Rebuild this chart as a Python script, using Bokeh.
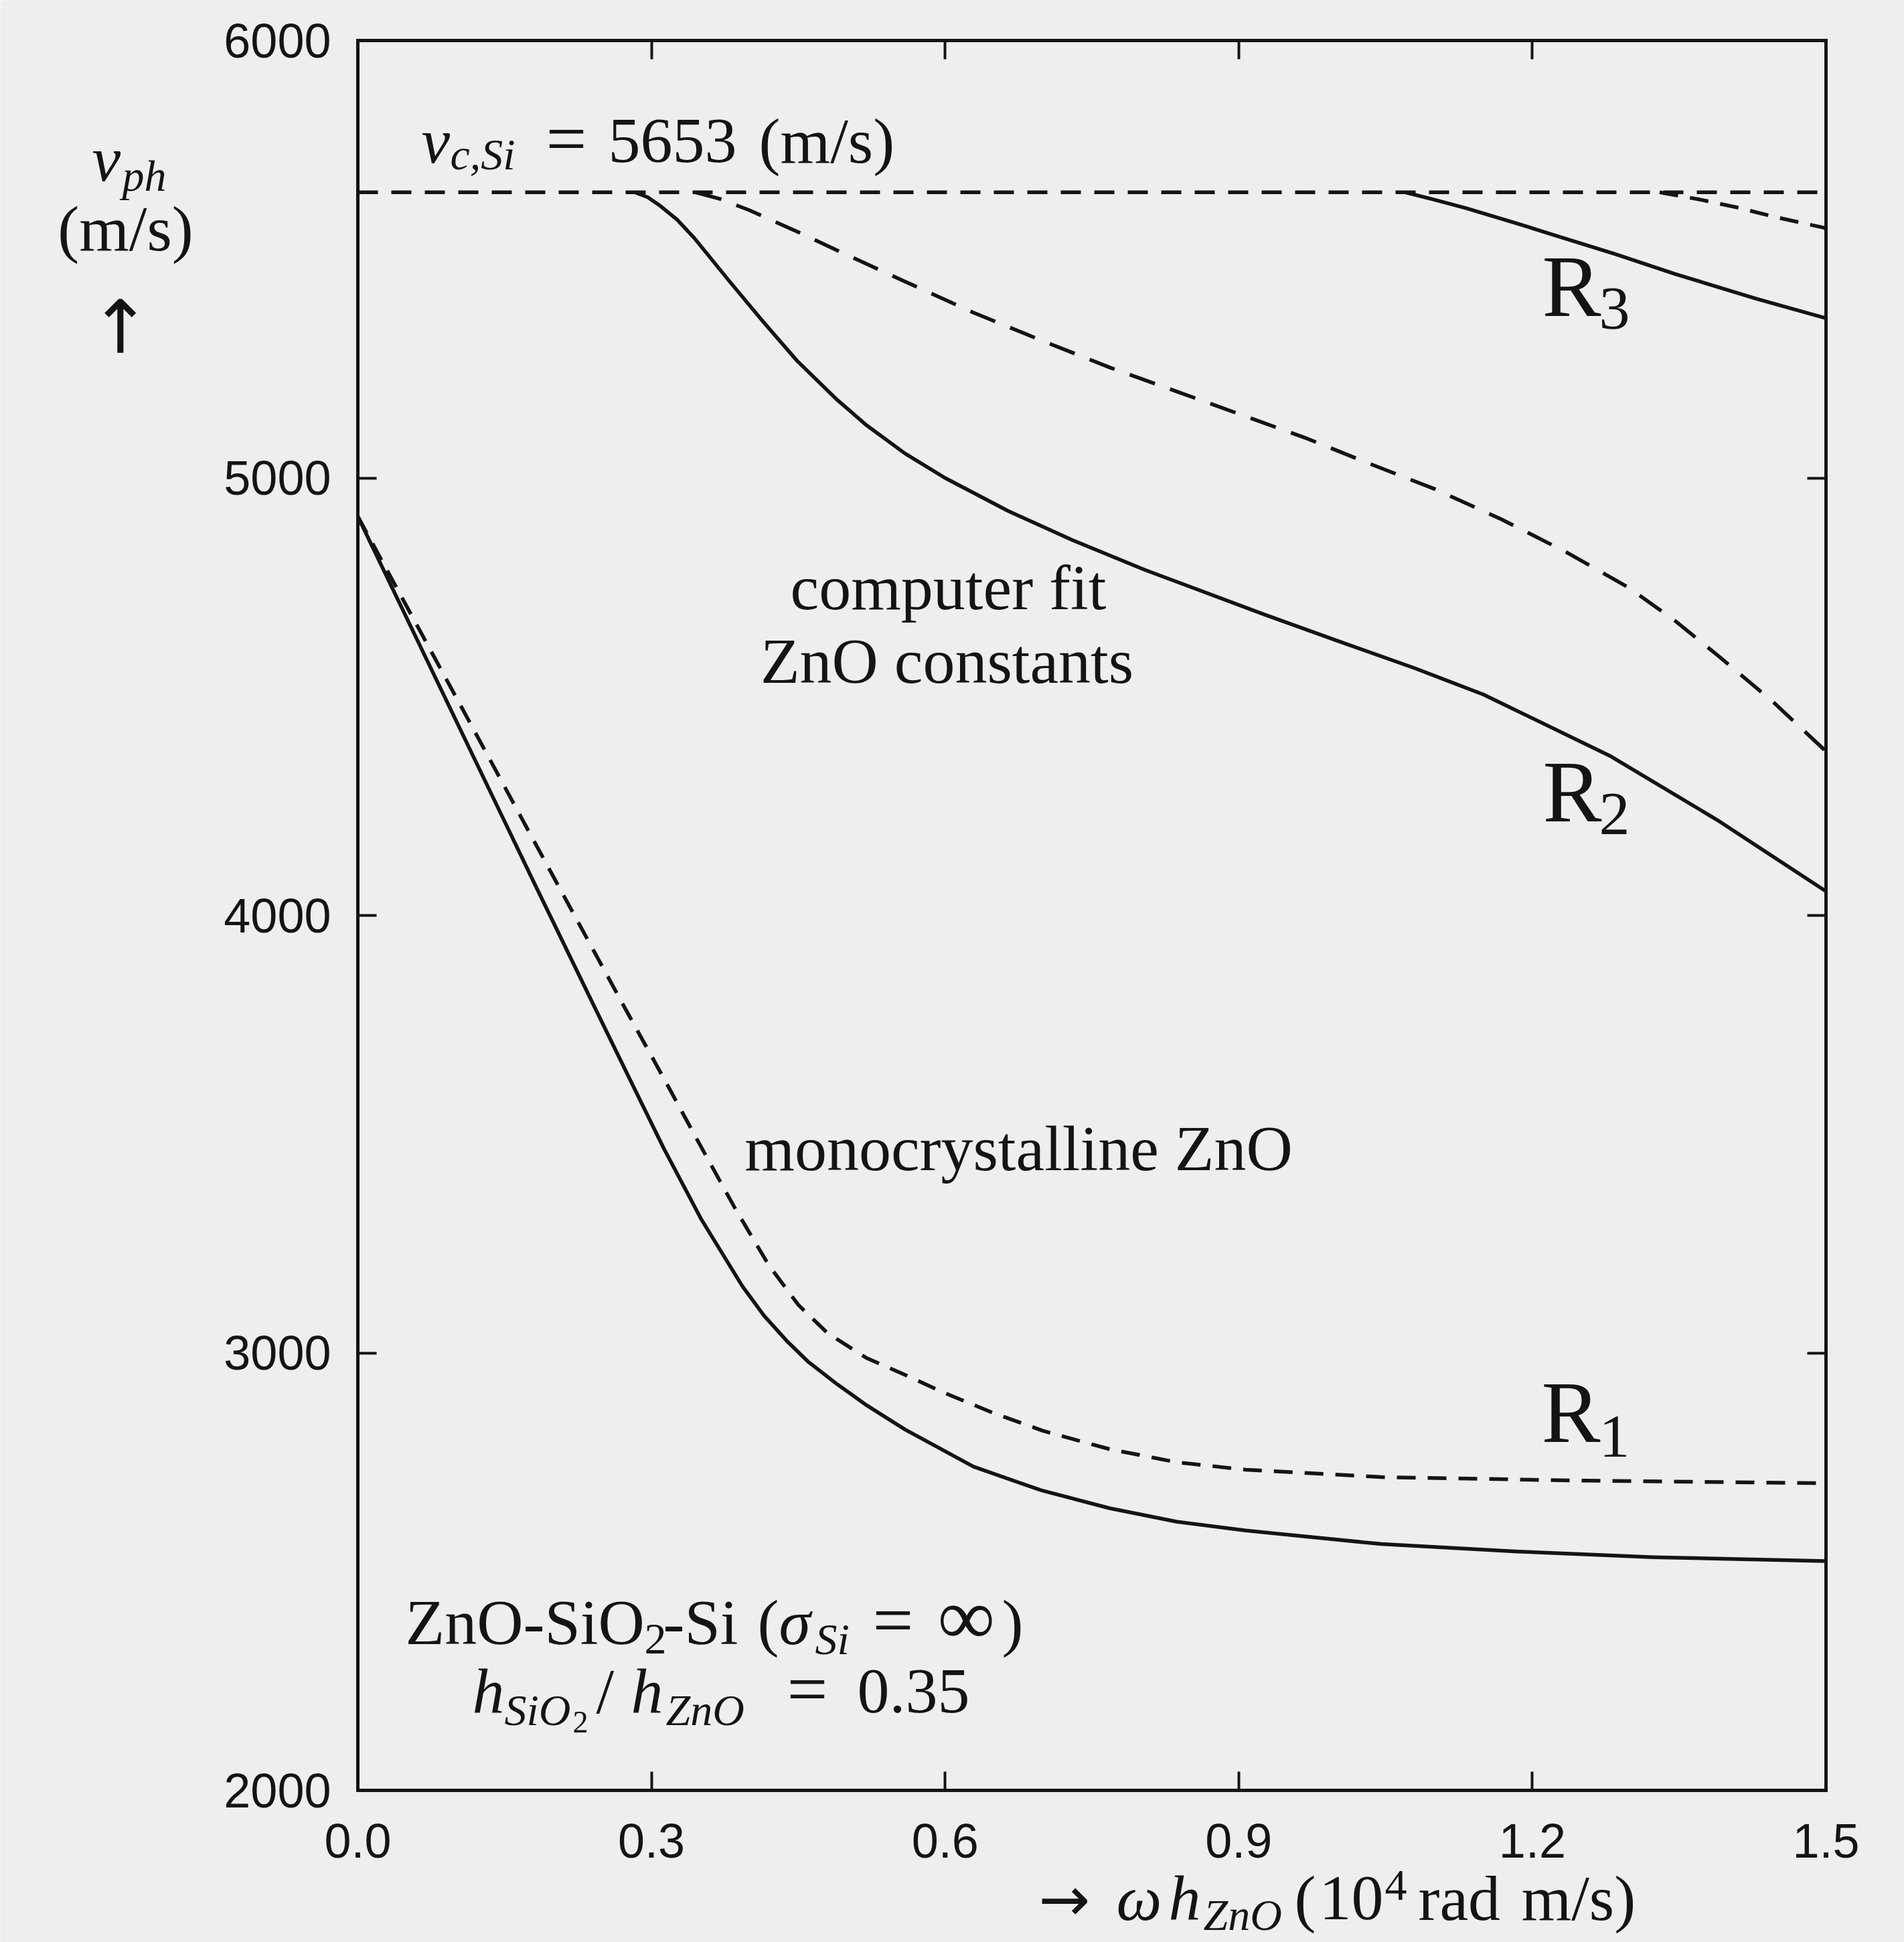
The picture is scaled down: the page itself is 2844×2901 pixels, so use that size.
from bokeh.plotting import figure
from bokeh.models import Range1d, LinearAxis, FixedTicker, Label
from bokeh.embed import file_html
from bokeh.resources import INLINE

# ---- data -------------------------------------------------------------
# cut-off velocity of the Si substrate (m/s)
v_cutoff = 5653

# R1: monocrystalline ZnO (solid) and computer-fit constants (dashed)
x_r1_mono = [0.0, 0.06, 0.12, 0.18, 0.242, 0.278, 0.3125, 0.351, 0.393, 0.415, 0.438,
             0.46, 0.49, 0.52, 0.559, 0.629, 0.698, 0.768, 0.837, 0.907, 1.046, 1.185,
             1.324, 1.5]
v_r1_mono = [4912, 4633, 4354, 4075, 3790, 3625, 3468, 3305, 3152, 3085, 3028,
             2980, 2928, 2880, 2825, 2740, 2686, 2645, 2614, 2594, 2563, 2546,
             2533, 2524]
x_r1_fit = [0.0, 0.06, 0.12, 0.18, 0.225, 0.271, 0.3125, 0.3475, 0.386, 0.42, 0.45,
            0.48, 0.52, 0.559, 0.60, 0.65, 0.70, 0.768, 0.837, 0.907, 1.046, 1.254, 1.5]
v_r1_fit = [4912, 4665, 4418, 4170, 3985, 3796, 3628, 3484, 3328, 3200, 3110,
            3045, 2988, 2950, 2908, 2862, 2822, 2780, 2750, 2733, 2716, 2708, 2702]

# R2
x_r2_mono = [0.2828, 0.296, 0.309, 0.3264, 0.3439, 0.3788, 0.4138, 0.4487, 0.49, 0.52,
             0.559, 0.60, 0.664, 0.73, 0.804, 0.926, 1.003, 1.08, 1.15, 1.279, 1.389, 1.5]
v_r2_mono = [5653, 5642, 5622, 5590, 5548, 5452, 5358, 5268, 5178, 5120,
             5056, 5000, 4925, 4858, 4790, 4688, 4626, 4565, 4505, 4365, 4218, 4055]
x_r2_fit = [0.345, 0.37, 0.40, 0.45, 0.49, 0.56, 0.629, 0.70, 0.769, 0.84, 0.908,
            0.97, 1.031, 1.10, 1.168, 1.235, 1.298, 1.345, 1.389, 1.445, 1.5]
v_r2_fit = [5653, 5638, 5612, 5562, 5520, 5448, 5378, 5313, 5252, 5195, 5140,
            5090, 5035, 4975, 4906, 4830, 4750, 4675, 4595, 4490, 4375]

# R3
x_r3_mono = [1.07, 1.10, 1.132, 1.181, 1.2226, 1.2843, 1.346, 1.4285, 1.5]
v_r3_mono = [5653, 5636, 5617, 5584, 5555, 5512, 5466, 5410, 5365]
x_r3_fit = [1.33, 1.37, 1.408, 1.449, 1.5]
v_r3_fit = [5653, 5637, 5619, 5596, 5571]

# axis ticks
x_ticks = [0.0, 0.3, 0.6, 0.9, 1.2, 1.5]
x_tick_labels = ["0.0", "0.3", "0.6", "0.9", "1.2", "1.5"]
y_ticks = [2000, 3000, 4000, 5000, 6000]
y_tick_labels = ["2000", "3000", "4000", "5000", "6000"]

# ---- styling ----------------------------------------------------------
BG = "#eeeeee"
INK = "#141414"
SERIF = "Liberation Serif"
SANS = "Liberation Sans"
ARROWS = "DejaVu Sans"
MAIN = 96
SUB = 66
EQ = 108
LW = 5.5

W, H = 2844, 2901
FL, FR, FT, FB = 534, 2727, 60, 2674      # plot box edges in canvas pixels
X0, X1, Y0, Y1 = 0.0, 1.5, 2000, 6000     # plot box in data units
KX = (X1 - X0) / (FR - FL)                # data units per pixel
KY = (Y1 - Y0) / (FB - FT)

# the drawing area spans the whole canvas, so titles outside the box are
# not clipped; the axes are pinned to the box edges with fixed_location
p = figure(width=W, height=H, title=None,
           x_range=Range1d(X0 - FL * KX, X1 + (W - FR) * KX),
           y_range=Range1d(Y0 - (H - FB) * KY, Y1 + FT * KY),
           x_axis_location=None, y_axis_location=None,
           output_backend="svg", toolbar_location=None, min_border=0,
           background_fill_color=BG, border_fill_color=BG)
p.grid.visible = False
p.outline_line_color = None

ax_bottom = LinearAxis(fixed_location=Y0, bounds=(X0, X1))
ax_top = LinearAxis(fixed_location=Y1, bounds=(X0, X1))
ax_left = LinearAxis(fixed_location=X0, bounds=(Y0, Y1))
ax_right = LinearAxis(fixed_location=X1, bounds=(Y0, Y1))
p.add_layout(ax_bottom, "below")
p.add_layout(ax_top, "above")
p.add_layout(ax_left, "left")
p.add_layout(ax_right, "right")

for ax in (ax_bottom, ax_top):
    ax.ticker = FixedTicker(ticks=x_ticks)
    ax.major_label_overrides = dict(zip(x_ticks, x_tick_labels))
for ax in (ax_left, ax_right):
    ax.ticker = FixedTicker(ticks=y_ticks)
    ax.major_label_overrides = dict(zip(y_ticks, y_tick_labels))

for ax in (ax_bottom, ax_top, ax_left, ax_right):
    ax.axis_line_color = INK
    ax.axis_line_width = 5
    ax.axis_line_cap = "square"
    ax.major_tick_in = 28
    ax.major_tick_out = 0
    ax.major_tick_line_color = INK
    ax.major_tick_line_width = 4
    ax.minor_tick_line_color = None
    ax.major_label_text_font = SANS
    ax.major_label_text_font_size = "72px"
    ax.major_label_text_color = INK

ax_bottom.major_label_standoff = 50
ax_left.major_label_standoff = 40
for ax in (ax_top, ax_right):
    ax.major_label_text_color = None
    ax.major_label_text_font_size = "0px"
    ax.major_label_standoff = 0

# ---- curves -----------------------------------------------------------
p.line([X0, X1], [v_cutoff, v_cutoff], line_color=INK, line_width=LW, line_dash="30 20")
p.line(x_r1_mono, v_r1_mono, line_color=INK, line_width=LW, line_join="round")
p.line(x_r1_fit, v_r1_fit, line_color=INK, line_width=LW, line_dash="28 18", line_join="round")
p.line(x_r2_mono, v_r2_mono, line_color=INK, line_width=LW, line_join="round")
p.line(x_r2_fit, v_r2_fit, line_color=INK, line_width=LW, line_dash="40 24", line_join="round")
p.line(x_r3_mono, v_r3_mono, line_color=INK, line_width=LW, line_join="round")
p.line(x_r3_fit, v_r3_fit, line_color=INK, line_width=LW, line_dash="28 18", line_join="round")


# ---- text -------------------------------------------------------------
def put(px, py, txt, size=MAIN, style="normal", font=SERIF, align="left"):
    """Place a text run with its baseline near canvas pixel (px, py)."""
    py = py - 0.36 * size   # the label box sits below the requested baseline
    p.add_layout(Label(x=X0 + (px - FL) * KX, y=Y0 + (FB - py) * KY, text=txt,
                       text_font=font, text_font_size=f"{size}px",
                       text_font_style=style, text_align=align,
                       text_baseline="alphabetic", text_color=INK))


# y-axis title
put(137, 272, "v", style="italic")
put(182, 286, "ph", SUB, style="italic")
put(187, 376, "(m/s)", align="center")
put(179, 528, "\u2191", 110, font=ARROWS, align="center")

# x-axis title
XB = 2870
put(1551, XB, "\u2192", 92, font=ARROWS)
put(1667, XB, "\u03c9", style="italic")
put(1745, XB, "h", style="italic")
put(1797, XB + 14, "ZnO", SUB, style="italic")
put(1933, XB, "(")
put(1970, XB, "10")
put(2068, XB - 30, "4", SUB)
put(2118, XB, "rad")
put(2272, XB, "m/s)")

# cut-off velocity
put(629, 245, "v", style="italic")
put(672, 254, "c,Si", SUB, style="italic")
put(815, 245, "=", EQ)
put(908, 245, "5653")
put(1133, 245, "(m/s)")

# curve annotations
put(1416, 912, "computer fit", align="center")
put(1414, 1022, "ZnO constants", align="center")
put(1521, 1750, "monocrystalline ZnO", align="center")

put(2303, 475, "R", 132)
put(2388, 494, "3", 92)
put(2304, 1230, "R", 132)
put(2388, 1249, "2", 92)
put(2302, 2157, "R", 132)
put(2388, 2179, "1", 92)

# structure description
SB1, SB2 = 2458, 2561
put(605, SB1, "ZnO-SiO")
put(962, SB1 + 14, "2", SUB)
put(990, SB1, "-Si")
put(1131, SB1, "(")
put(1163, SB1, "\u03c3", style="italic")
put(1217, SB1 + 14, "Si", SUB, style="italic")
put(1303, SB1, "=", EQ)
put(1400, SB1, "\u221e", 120)
put(1496, SB1, ")")

put(705, SB2, "h", style="italic")
put(753, SB2 + 17, "SiO", SUB, style="italic")
put(855, SB2 + 28, "2", 46)
put(890, SB2, "/")
put(942, SB2, "h", style="italic")
put(994, SB2 + 17, "ZnO", SUB, style="italic")
put(1175, SB2, "=", EQ)
put(1280, SB2, "0.35")

open("out.html", "w").write(file_html(p, INLINE))
